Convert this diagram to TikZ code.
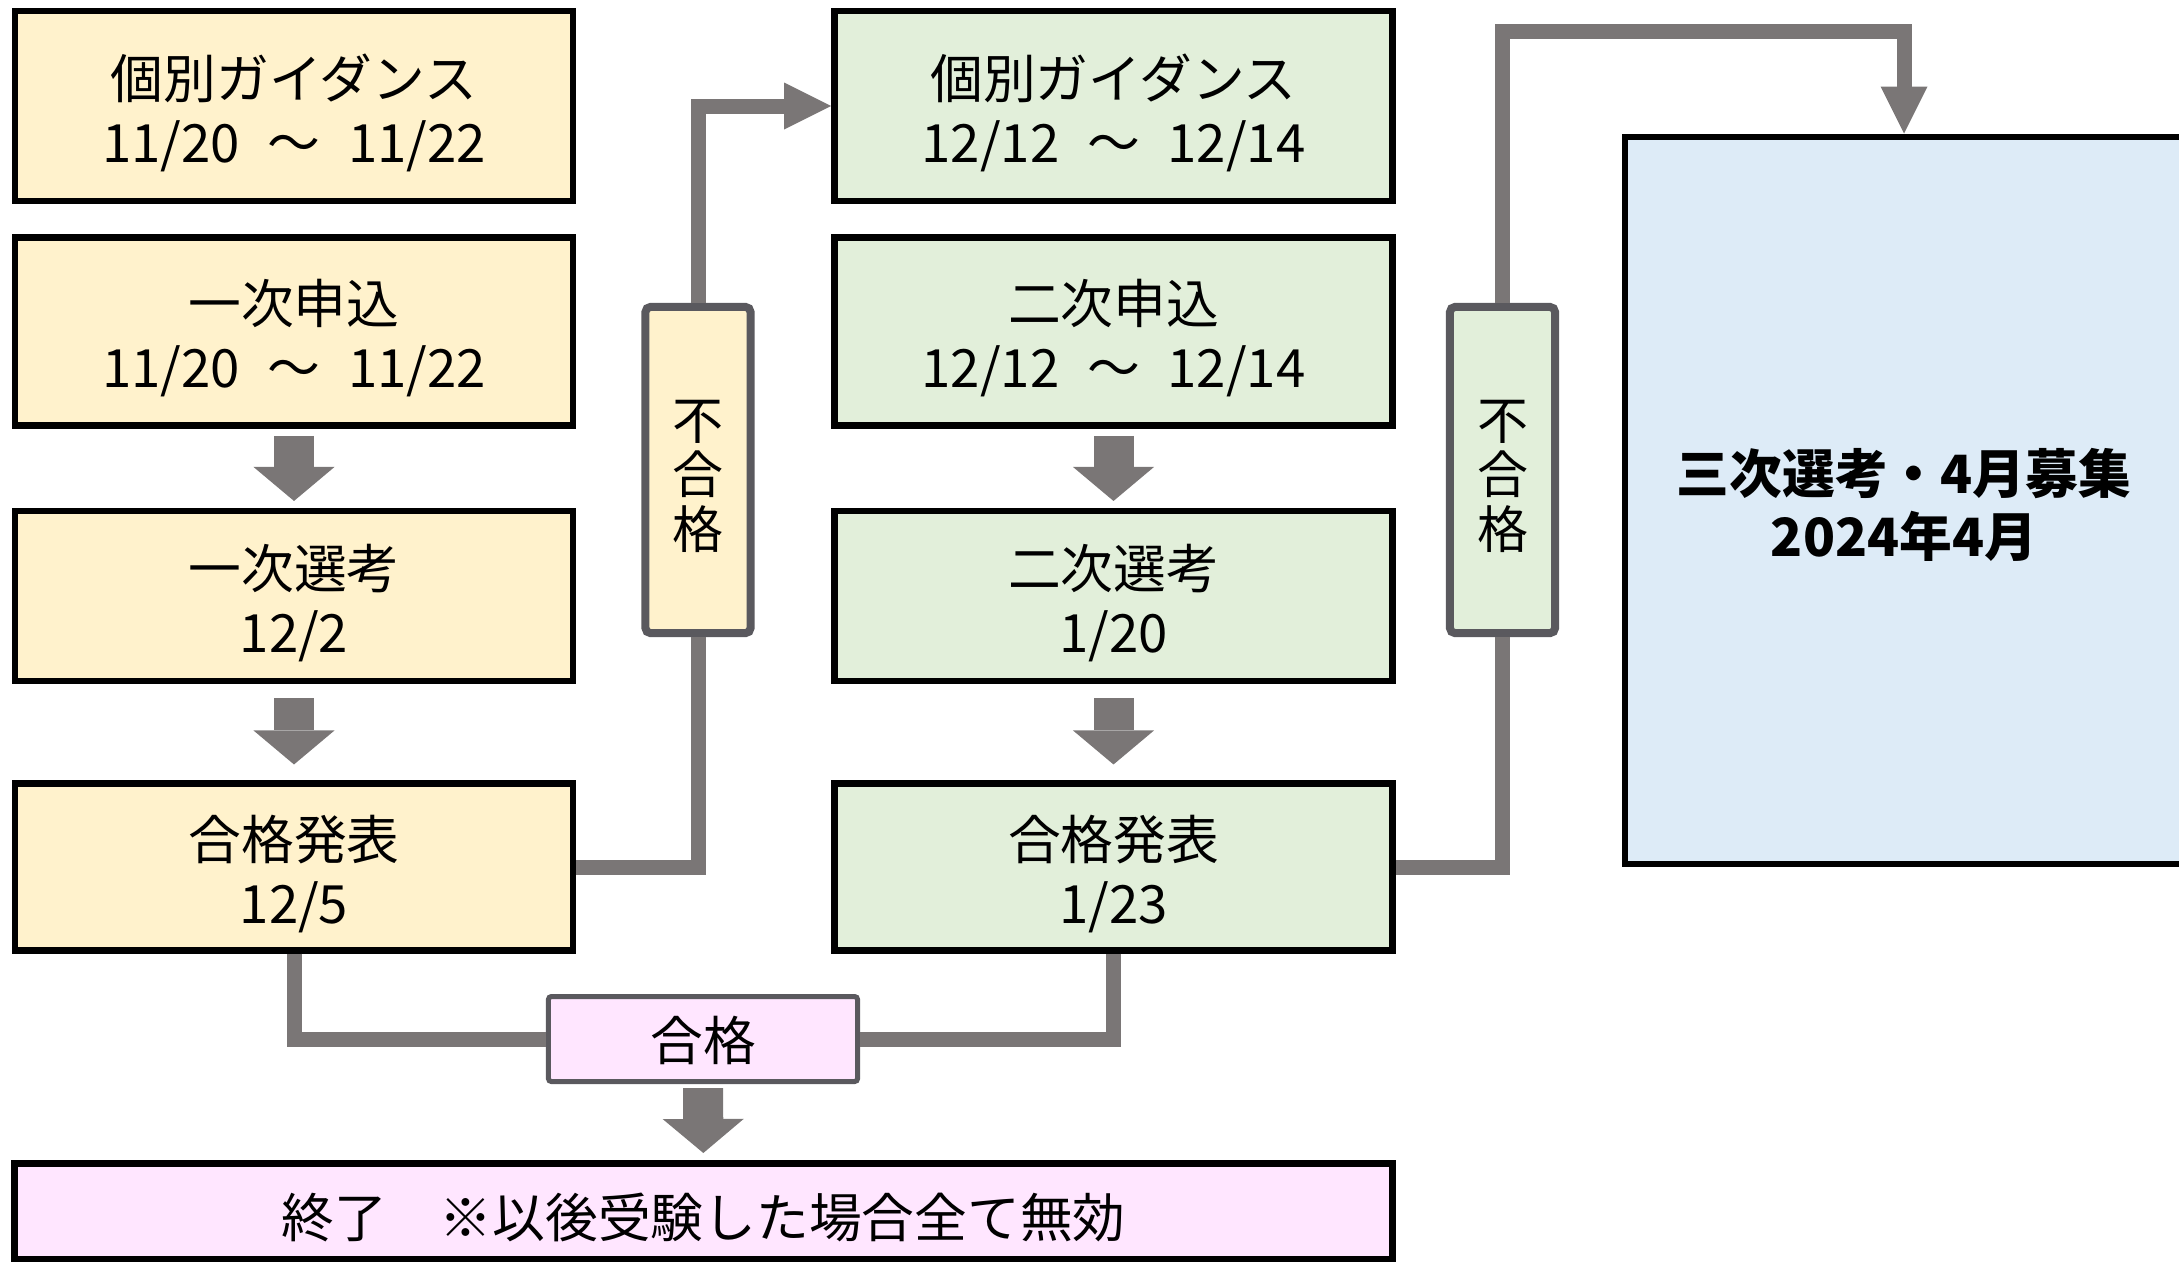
\documentclass[tikz,border=0pt]{standalone}
\usepackage{fontspec}
\setmainfont{Noto Sans CJK JP}
\usetikzlibrary{arrows.meta}

\definecolor{stageyellow}{HTML}{FFF2CC}
\definecolor{stagegreen}{HTML}{E2EFDA}
\definecolor{stageblue}{HTML}{DDEBF7}
\definecolor{stagepink}{HTML}{FFE6FF}
\definecolor{flowgray}{HTML}{7A7676}
\definecolor{failgray}{HTML}{5A595E}

% strut on the first line, pushes the text a little down
\newcommand{\textdrop}[1][0.58cm]{\rule{0pt}{#1}}
\newcommand{\tildegap}{\hspace{0.3em}～\hspace{0.3em}}

\begin{document}
\begin{tikzpicture}
[x=0.01cm,y=-0.01cm,%
  every node/.style={align=center,inner sep=0pt,font=\fontsize{15pt}{18.2pt}\selectfont},%
  stage/.style={draw=black,line width=0.065cm,minimum width=5.58cm},%
  first/.style={stage,fill=stageyellow},%
  second/.style={stage,fill=stagegreen},%
  fail/.style={draw=failgray,line width=0.08cm,rounded corners=0.05cm,%
    minimum width=1.05cm,minimum height=3.26cm,font=\fontsize{14.5pt}{15.4pt}\selectfont},%
  flow/.style={draw=flowgray,line width=0.15cm},%
  flowtip/.style={flow,-{Triangle[width=0.47cm,length=0.47cm,line width=0pt]}},%
  bigarrow/.style={draw=flowgray,line width=0.4cm,-{Triangle[width=0.81cm,length=0.34cm,line width=0pt]}}]
\useasboundingbox (0,0) rectangle (2179,1262);
%% first round
\node[first,minimum height=1.90cm] (a1) at (294,106) {\textdrop 個別ガイダンス\\11/20 \tildegap\ 11/22};
\node[first,minimum height=1.88cm] (a2) at (294,331.5) {\textdrop 一次申込\\11/20 \tildegap\ 11/22};
\node[first,minimum height=1.695cm] (a3) at (294,596) {\textdrop 一次選考\\12/2};
\node[first,minimum height=1.665cm] (a4) at (294,867) {\textdrop 合格発表\\12/5};
\node[fail,fill=stageyellow] (fail1) at (698,470) {\textdrop[0.52cm]不\\合\\格};
%% second round
\node[second,minimum height=1.90cm] (b1) at (1113.5,106) {\textdrop 個別ガイダンス\\12/12 \tildegap\ 12/14};
\node[second,minimum height=1.88cm] (b2) at (1113.5,331.5) {\textdrop 二次申込\\12/12 \tildegap\ 12/14};
\node[second,minimum height=1.695cm] (b3) at (1113.5,596) {\textdrop 二次選考\\1/20};
\node[second,minimum height=1.665cm] (b4) at (1113.5,867) {\textdrop 合格発表\\1/23};
\node[fail,fill=stagegreen] (fail2) at (1502.5,470) {\textdrop[0.52cm]不\\合\\格};
%% third round
\node[stage,fill=stageblue,minimum height=7.27cm,font=\fontsize{15pt}{17.8pt}\selectfont\bfseries]
  (third) at (1904,500.5) {\textdrop[0.54cm]三次選考・4月募集\\2024年4月};
%% result
\node[draw=failgray,line width=0.05cm,rounded corners=0.03cm,fill=stagepink,%
  minimum width=3.09cm,minimum height=0.85cm] (pass) at (703,1039) {\textdrop[0.48cm]合格};
\node[stage,fill=stagepink,minimum width=13.77cm,minimum height=0.955cm]
  (endbox) at (703.5,1211) {\textdrop 終了　※以後受験した場合全て無効};
%% connectors
\draw[flow] (a4.east) -| (fail1.south);
\draw[flowtip] (fail1.north) |- (b1.west);
\draw[flow] (b4.east) -| (fail2.south);
\coordinate (turn) at (1904,31);
\draw[flowtip] (fail2.north) |- (turn) -- (third.north);
\draw[flow] (a4.south) |- (pass.west);
\draw[flow] (b4.south) |- (pass.east);
\path
\foreach \startNode/\endNode/\gapStart/\gapEnd in
  {a2/a3/0.07/0.07, b2/b3/0.07/0.07, a3/a4/0.14/0.16, b3/b4/0.14/0.16, pass/endbox/0.04/0.07}
{
  (\startNode) edge[bigarrow,shorten <=\gapStart cm,shorten >=\gapEnd cm] (\endNode)
};
\end{tikzpicture}
\end{document}
